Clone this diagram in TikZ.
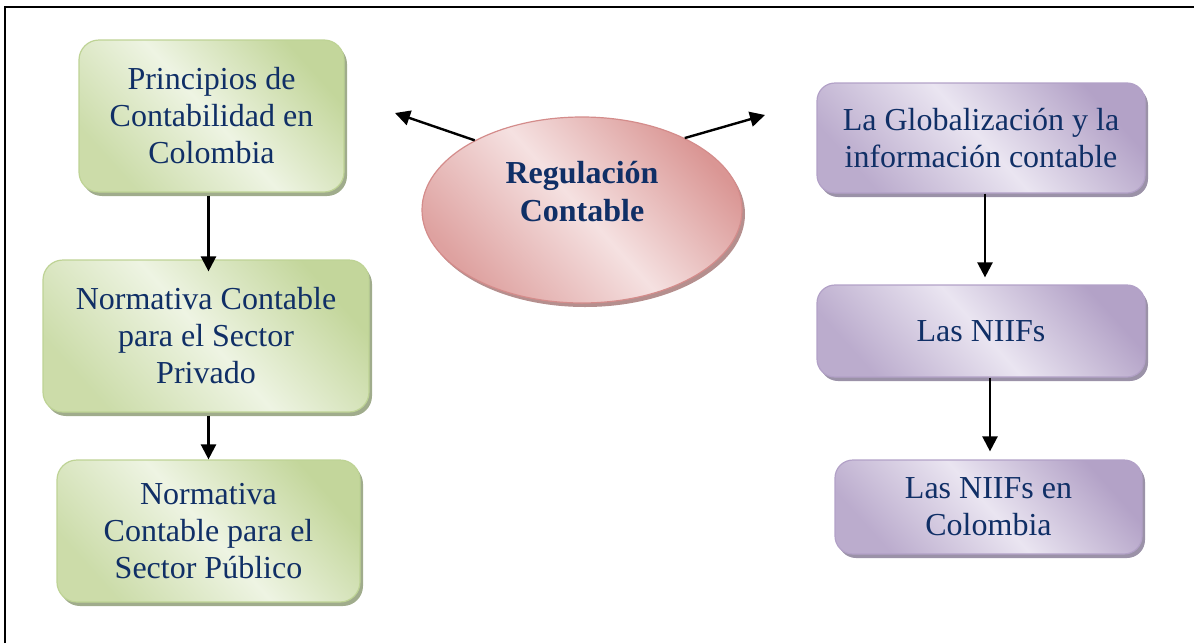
\documentclass[tikz,border=0pt]{standalone}
\usepackage{fontspec}
\setmainfont{Liberation Serif}
\usetikzlibrary{arrows.meta,shadows,shapes.geometric}
\definecolor{gdark}{HTML}{C3D69B}
\definecolor{glight}{HTML}{EEF4E3}
\definecolor{gline}{HTML}{BED395}
\definecolor{gshadow}{HTML}{A0AC8C}
\definecolor{pdark}{HTML}{B3A2C7}
\definecolor{plight}{HTML}{EAE5F1}
\definecolor{pline}{HTML}{B2A1C7}
\definecolor{pshadow}{HTML}{9B92A8}
\definecolor{rdark}{HTML}{DA9694}
\definecolor{rlight}{HTML}{F5E1E1}
\definecolor{rline}{HTML}{D48C8B}
\definecolor{rshadow}{HTML}{B58F8E}
\definecolor{txt}{HTML}{102F66}
\begin{document}
\begin{tikzpicture}[x=1pt,y=-1pt,
  boxtext/.style={align=center, text=txt, font=\fontsize{32}{37}\selectfont, inner sep=0pt},
  gbox/.style={boxtext, draw=gline, line width=1.2pt, rounded corners=20pt,
    top color=gdark, bottom color=gdark!80!glight, middle color=glight, shading angle=-48,
    general shadow={shadow xshift=3pt, shadow yshift=-4pt, fill=gshadow}},
  pbox/.style={boxtext, draw=pline, line width=1.2pt, rounded corners=18pt,
    top color=pdark, bottom color=pdark!85!plight, middle color=plight, shading angle=-48,
    general shadow={shadow xshift=3pt, shadow yshift=-4pt, fill=pshadow}},
  ellbox/.style={ellipse, draw=rline, line width=1.2pt,
    top color=rdark, bottom color=rdark!85!rlight, middle color=rlight, shading angle=-48,
    general shadow={shadow xshift=3pt, shadow yshift=-4pt, fill=rshadow}},
  etext/.style={align=center, text=txt, font=\fontsize{32}{38}\selectfont\bfseries, inner sep=0pt},
  arr/.style={line width=2.4pt, -{Triangle[length=15pt,width=15pt]}},
  frame/.style={line width=1.6pt, black}
]
\useasboundingbox (0,0) rectangle (1194,643);
\draw[frame] (5,643) -- (5,7) -- (1194,7);

\node[gbox, minimum width=265pt, minimum height=152pt] (b1) at (211.5,116) {Principios de\\Contabilidad en\\Colombia};
\node[gbox, minimum width=326pt, minimum height=152pt] (b2) at (206,336) {Normativa Contable\\para el Sector\\Privado};
\node[gbox, minimum width=303pt, minimum height=142pt] (b3) at (208.5,531) {Normativa\\Contable para el\\Sector Público};

\node[ellbox, minimum width=320pt, minimum height=186pt] (e) at (582,210) {};
\node[etext] (et) at (582,192) {Regulación\\Contable};

\node[pbox, minimum width=328pt, minimum height=110pt] (p1) at (981,138) {La Globalización y la\\información contable};
\node[pbox, minimum width=328pt, minimum height=92pt] (p2) at (981,331) {Las NIIFs};
\node[pbox, minimum width=307pt, minimum height=94pt] (p3) at (988.5,507) {Las NIIFs en\\Colombia};

\coordinate (c1) at (395,113);
\coordinate (c2) at (765,115);
\draw[arr] (e.147) -- (c1);
\draw[arr] (e.35) -- (c2);

\draw[arr, shorten >=-12pt] ([yshift=-3pt]b1.south -| b3.center) -- (b2.north -| b3.center);
\draw[arr] ([yshift=-3pt]b2.south -| b3.center) -- (b3.north);

\draw[arr, shorten >=7pt] ([xshift=4pt]p1.south) -- ([xshift=4pt]p2.north);
\draw[arr, shorten >=8pt] ([xshift=9pt]p2.south) -- ([xshift=9pt]p2.south |- p3.north);
\end{tikzpicture}
\end{document}
